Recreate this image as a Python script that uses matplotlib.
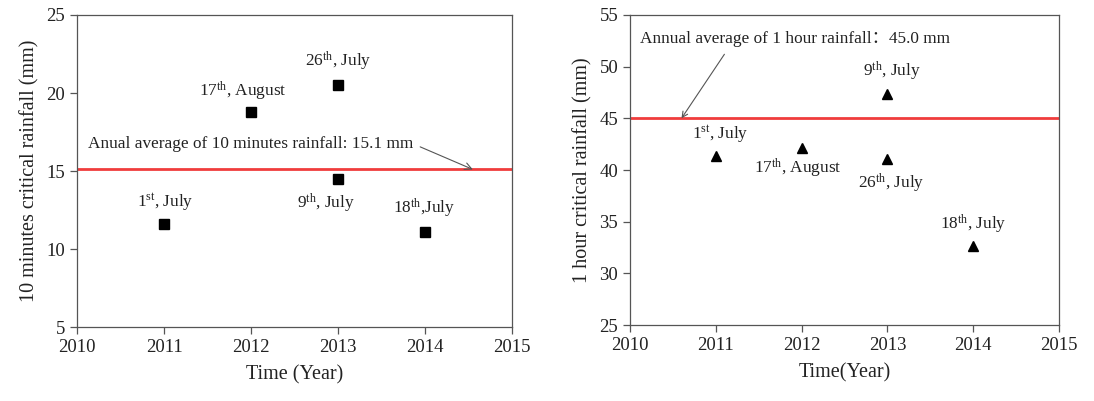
import matplotlib
matplotlib.use('Agg')
import matplotlib.pyplot as plt

plt.rcParams['font.family'] = ['Liberation Serif', 'Noto Sans CJK SC']
plt.rcParams['mathtext.fontset'] = 'custom'
plt.rcParams['mathtext.rm'] = 'Liberation Serif'
plt.rcParams['mathtext.it'] = 'Liberation Serif'

# 10-minute critical rainfall events
years_10 = [2011, 2012, 2013, 2013, 2014]
rain_10 = [11.6, 18.8, 20.5, 14.5, 11.1]
labels_10 = [r'1$^{\mathrm{st}}$, July', r'17$^{\mathrm{th}}$, August',
             r'26$^{\mathrm{th}}$, July', r'9$^{\mathrm{th}}$, July',
             r'18$^{\mathrm{th}}$,July']
avg_10 = 15.1

# 1-hour critical rainfall events
years_1h = [2011, 2012, 2013, 2013, 2014]
rain_1h = [41.4, 42.1, 47.4, 41.1, 32.6]
labels_1h = [r'1$^{\mathrm{st}}$, July', r'17$^{\mathrm{th}}$, August',
             r'9$^{\mathrm{th}}$, July', r'26$^{\mathrm{th}}$, July',
             r'18$^{\mathrm{th}}$, July']
avg_1h = 45.0

xticks = [2010, 2011, 2012, 2013, 2014, 2015]

fig = plt.figure(figsize=(10.94, 4.01), dpi=100)
ax1 = fig.add_axes([0.0704, 0.1845, 0.3976, 0.7781])
ax2 = fig.add_axes([0.5759, 0.1895, 0.3921, 0.7731])

FS_TICK = 13.5
FS_LAB = 14.5
FS_NOTE = 12.4
for ax in (ax1, ax2):
    for sp in ax.spines.values():
        sp.set_color('#555555')
        sp.set_linewidth(0.9)
    ax.set_xlim(2010, 2015)
    ax.set_xticks(xticks)
    ax.tick_params(direction='out', length=5, width=0.9, color='#555555',
                   labelsize=FS_TICK, labelcolor='#222222', top=False, right=False)

# left panel
ax1.set_ylim(5, 25)
ax1.set_yticks([5, 10, 15, 20, 25])
ax1.axhline(avg_10, color='#f03c3c', linewidth=2, zorder=1)
ax1.plot(years_10, rain_10, 's', color='black', markersize=6.5, zorder=3)
pos_10 = [(2011.02, 13.0), (2011.9, 20.1), (2013.0, 22.05),
          (2012.86, 12.95), (2013.99, 12.6)]
for (tx, ty), lab in zip(pos_10, labels_10):
    ax1.text(tx, ty, lab, ha='center', va='center', fontsize=FS_NOTE, color='#222222')
ax1.annotate('Anual average of 10 minutes rainfall: 15.1 mm',
             xy=(2014.55, avg_10), xytext=(2010.13, 16.73),
             ha='left', va='center', fontsize=FS_NOTE, color='#222222',
             arrowprops=dict(arrowstyle='->', color='#555555', lw=0.8,
                             shrinkA=3, shrinkB=0, relpos=(1, 0.5)))
ax1.set_xlabel('Time (Year)', fontsize=FS_LAB, color='#222222', labelpad=7)
ax1.set_ylabel('10 minutes critical rainfall (mm)', fontsize=FS_LAB, color='#222222', labelpad=5)

# right panel
ax2.set_ylim(25, 55)
ax2.set_yticks([25, 30, 35, 40, 45, 50, 55])
ax2.axhline(avg_1h, color='#f03c3c', linewidth=2, zorder=1)
ax2.plot(years_1h, rain_1h, '^', color='black', markersize=7.5, zorder=3)
pos_1h = [(2011.05, 43.5), (2011.96, 40.2), (2013.05, 49.5),
          (2013.05, 38.7), (2014.0, 34.7)]
for (tx, ty), lab in zip(pos_1h, labels_1h):
    ax2.text(tx, ty, lab, ha='center', va='center', fontsize=FS_NOTE, color='#222222')
ax2.text(2010.12, 52.7, 'Annual average of 1 hour rainfall\uff1a45.0 mm',
         ha='left', va='center', fontsize=FS_NOTE, color='#222222')
ax2.annotate('', xy=(2010.6, avg_1h), xytext=(2011.1, 51.2),
             arrowprops=dict(arrowstyle='->', color='#555555', lw=0.8,
                             shrinkA=0, shrinkB=0))
ax2.set_xlabel('Time(Year)', fontsize=FS_LAB, color='#222222', labelpad=7)
ax2.set_ylabel('1 hour critical rainfall (mm)', fontsize=FS_LAB, color='#222222', labelpad=5)

fig.savefig('out.png', dpi=100)
